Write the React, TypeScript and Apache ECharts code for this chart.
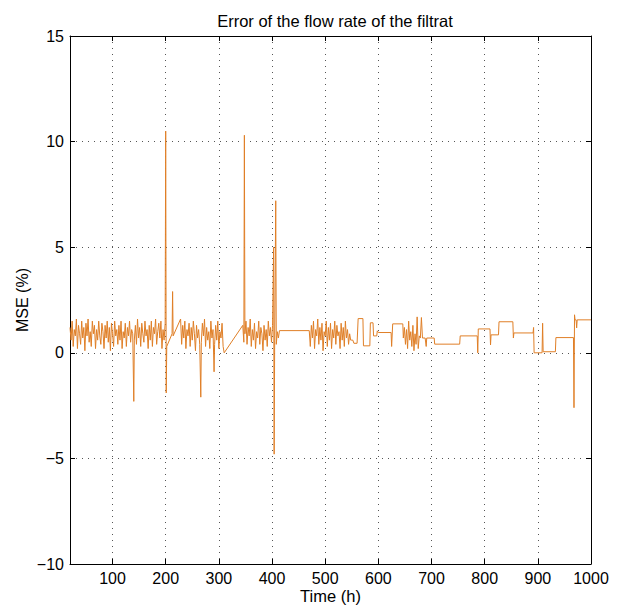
import React, { useEffect, useRef } from "react";
import * as echarts from "echarts";

const chartTitle = "Error of the flow rate of the filtrat";
const xName = "Time (h)";
const yName = "MSE (%)";

const timeH = [
  20, 22, 24, 26, 28, 30, 32, 34, 36, 38, 40, 42, 44, 46, 48, 50, 52, 54, 56, 58,
  60, 62, 64, 66, 68, 70, 72, 74, 76, 78, 80, 82, 84, 86, 88, 90, 92, 94, 96, 98,
  100, 102, 104, 106, 108, 110, 112, 114, 116, 118, 120, 122, 124, 126, 128, 130, 132, 134, 136, 138,
  140, 141, 143, 145, 147, 149, 151, 153, 155, 157, 159, 161, 163, 165, 167, 169, 171, 173, 175, 177,
  179, 181, 183, 185, 187, 189, 191, 193, 195, 197, 199, 200, 201, 202, 212, 213, 214, 228, 230, 232,
  234, 236, 238, 240, 242, 244, 246, 248, 250, 252, 254, 256, 258, 260, 262, 264, 266, 267, 269, 271,
  273, 275, 277, 279, 281, 283, 285, 287, 289, 291, 292, 294, 296, 298, 300, 302, 304, 306, 308, 310,
  345, 347, 348, 349, 351, 353, 355, 357, 359, 361, 363, 365, 367, 369, 371, 373, 375, 377, 379, 381,
  383, 385, 387, 389, 391, 393, 395, 397, 399, 401, 403, 404, 405, 407, 408, 410, 412, 414, 470, 472,
  474, 476, 478, 480, 482, 484, 486, 488, 490, 492, 494, 496, 498, 500, 502, 504, 506, 508, 510, 512,
  514, 516, 518, 520, 522, 524, 526, 528, 530, 532, 534, 536, 538, 540, 542, 544, 546, 548, 550, 552,
  554, 560, 562, 571, 572, 584, 585, 590, 591, 597, 598, 600, 624, 625, 627, 646, 647, 649, 651, 653,
  655, 657, 659, 661, 663, 665, 667, 669, 671, 673, 675, 677, 679, 681, 683, 688, 690, 691, 705, 706,
  753, 754, 786, 787, 788, 810, 811, 812, 826, 827, 853, 854, 855, 891, 892, 893, 908, 909, 910, 933,
  934, 967, 968, 969, 970, 972, 973, 974, 1000,
];

const mseValues = [
  1.2, 0.6, 1.5, 0.3, 1.1, 0.8, 1.6, 0.2, 1.3, 0.9, 0.4, 1.5, 0.7, 1.2, 0.1, 1.4, 0.8, 1.6, 0.5, 1.0,
  0.3, 1.5, 0.9, 1.3, 0.2, 1.1, 0.6, 1.5, 0.8, 0.4, 1.4, 1.0, 0.2, 1.3, 0.7, 1.5, 0.5, 1.2, 0.1, 1.4,
  0.9, 0.3, 1.5, 0.8, 1.1, 0.4, 1.3, 0.6, 1.5, 0.2, 1.0, 0.7, 1.4, 0.3, 1.2, 0.8, 1.5, 0.5, 1.1, 0.9,
  -2.3, 0.6, 1.3, 0.4, 1.6, 0.7, 1.2, 0.3, 1.4, 0.9, 0.5, 1.5, 0.8, 1.1, 0.2, 1.3, 0.6, 1.5, 0.3, 1.2,
  0.9, 1.6, 0.4, 1.0, 1.4, 0.7, 1.5, 0.2, 1.1, 0.6, 1.4, 10.5, -1.9, 0.3, 0.9, 2.9, 0.8, 1.6, 0.4, 1.3,
  0.7, 1.5, 0.2, 1.1, 0.8, 1.4, 0.3, 1.2, 0.6, 1.5, 0.9, 0.1, 1.3, 0.7, 1.1, 0.4, -2.1, 0.5, 1.4, 0.8,
  1.6, 0.3, 1.2, 0.6, 1.0, 0.2, 1.5, 0.7, 1.1, -0.9, 0.4, 1.3, 0.6, 1.5, 0.2, 1.0, 0.7, 1.4, 0.3, 0.0,
  1.3, 0.5, 10.3, 0.9, 1.5, 0.4, 1.2, 0.8, 1.6, 0.3, 1.1, 0.6, 1.4, 0.2, 1.0, 0.7, 1.5, 0.4, 1.2, 0.9,
  0.1, 1.3, 0.6, 1.1, 0.3, 1.5, 0.8, 1.2, 0.5, 1.3, 5.0, -4.8, 0.6, 7.2, 0.4, 1.0, 0.7, 1.05, 1.05, 0.3,
  1.3, 0.7, 1.5, 0.2, 1.1, 0.8, 1.6, 0.4, 1.2, 0.6, 1.4, 0.1, 1.0, 0.8, 1.5, 0.3, 1.2, 0.6, 1.4, 0.2,
  1.1, 0.7, 1.5, 0.4, 1.3, 0.8, 1.0, 0.2, 1.4, 0.6, 1.2, 0.3, 1.5, 0.7, 1.1, 0.4, 0.9, 0.6, 0.6, 0.6,
  0.45, 0.45, 1.62, 1.62, 0.33, 0.33, 1.42, 1.42, 0.8, 0.8, 1.04, 0.96, 0.96, 0.3, 1.37, 1.37, 0.7, 1.2, 0.4, 1.1,
  0.2, 1.5, 0.6, 1.0, 0.3, 1.3, 0.1, 0.9, 0.4, 1.7, 0.2, 0.8, 0.7, 1.67, 0.7, 0.7, 0.3, 0.7, 0.7, 0.41,
  0.41, 0.8, 0.8, 0.0, 1.13, 1.13, 0.37, 0.85, 0.85, 1.47, 1.47, 0.7, 0.94, 0.94, 1.2, 0.0, 0.0, 1.4, 0.05, 0.05,
  0.72, 0.72, -2.6, 1.8, 1.56, 1.56, 1.18, 1.56, 1.56,
];

const xMin = 20;
const xMax = 1000;
const xTickValues = [100, 200, 300, 400, 500, 600, 700, 800, 900, 1000];
const yMin = -10;
const yMax = 15;
const yStep = 5;

const FONT = "Liberation Sans";
const LINE_COLOR = "#E07F27";
const GRID_COLOR = "#555";

export default function App() {
  const ref = useRef<HTMLDivElement>(null);
  useEffect(() => {
    if (!ref.current) return;
    const chart = echarts.init(ref.current, undefined, { renderer: "svg" });
    const data = timeH.map((t, i) => [t, mseValues[i]]);
    const fmt = (v: number) => String(v).replace("-", "\u2212");
    const dotted = { color: GRID_COLOR, width: 1, type: [1, 5] as any };
    const axisLine = { show: true, onZero: false, lineStyle: { color: "#000", width: 1 } };
    const axisTick = { show: true, inside: true, length: 5, lineStyle: { color: "#000" } };
    const xTick = { ...axisTick, customValues: xTickValues };
    chart.setOption({
      animation: false,
      backgroundColor: "#fff",
      title: {
        text: chartTitle,
        left: 330,
        top: 7,
        textAlign: "center",
        textStyle: { fontFamily: FONT, fontSize: 16.5, fontWeight: "normal", color: "#000" },
      },
      grid: {
        left: 70,
        right: 28,
        top: 36,
        bottom: 43,
        containLabel: false,
        outerBoundsMode: "none",
      } as any,
      xAxis: [
        {
          type: "value",
          min: xMin,
          max: xMax,
          name: xName,
          nameLocation: "middle",
          nameGap: 23,
          nameMoveOverlap: false,
          nameTextStyle: { fontFamily: FONT, fontSize: 16.5, color: "#000" },
          axisLine,
          axisTick: xTick,
          axisLabel: {
            fontFamily: FONT,
            fontSize: 16,
            color: "#000",
            margin: 6,
            customValues: xTickValues,
            formatter: (v: number) => fmt(v),
          },
          splitLine: { show: true, lineStyle: dotted, customValues: xTickValues } as any,
        } as any,
        {
          type: "value",
          position: "top",
          min: xMin,
          max: xMax,
          axisLine,
          axisTick: xTick,
          axisLabel: { show: false },
          splitLine: { show: false },
        },
      ],
      yAxis: [
        {
          type: "value",
          min: yMin,
          max: yMax,
          interval: yStep,
          name: yName,
          nameLocation: "middle",
          nameGap: 40,
          nameMoveOverlap: false,
          nameTextStyle: { fontFamily: FONT, fontSize: 16, color: "#000" },
          axisLine,
          axisTick,
          axisLabel: {
            fontFamily: FONT,
            fontSize: 16,
            color: "#000",
            margin: 6,
            formatter: (v: number) => fmt(v),
          },
          splitLine: { show: true, lineStyle: dotted },
        } as any,
        {
          type: "value",
          position: "right",
          min: yMin,
          max: yMax,
          interval: yStep,
          axisLine,
          axisTick,
          axisLabel: { show: false },
          splitLine: { show: false },
        },
      ],
      series: [
        {
          type: "line",
          xAxisIndex: 0,
          yAxisIndex: 0,
          data,
          showSymbol: false,
          symbol: "none",
          clip: true,
          lineStyle: { color: LINE_COLOR, width: 1 },
          itemStyle: { color: LINE_COLOR },
        },
      ],
    });
    return () => chart.dispose();
  }, []);
  return (
    <div
      ref={ref}
      style={{ position: "absolute", left: 0, top: 0, width: 619, height: 607 }}
    />
  );
}
